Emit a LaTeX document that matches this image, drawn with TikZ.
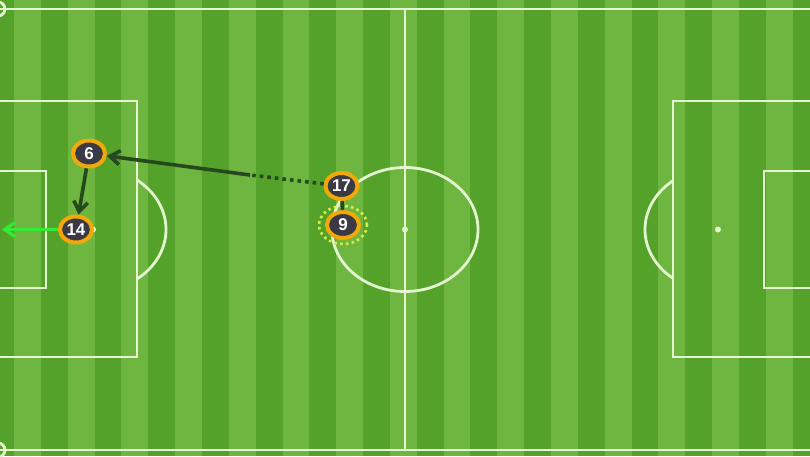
\documentclass[tikz,border=0pt]{standalone}
\usepackage{fontspec}
\setsansfont{Liberation Sans}
\usetikzlibrary{positioning}
\usetikzlibrary{arrows.meta, shapes.geometric}

\definecolor{grasslight}{RGB}{110,182,64}
\definecolor{grassdark}{RGB}{84,162,42}
\definecolor{chalk}{RGB}{228,246,208}
\definecolor{shirt}{RGB}{58,58,70}
\definecolor{ring}{RGB}{242,168,8}
\definecolor{pass}{RGB}{38,72,30}
\definecolor{run}{RGB}{50,235,50}
\definecolor{marker}{RGB}{215,235,70}

\tikzset{
 player/.style={ellipse, draw=ring, line width=2pt, fill=shirt,
  text=white, font=\sffamily\bfseries\fontsize{8.5}{9}\selectfont,
  minimum width=16pt, minimum height=13pt, inner sep=0pt},
 zone/.style={ellipse, draw=marker, line width=1.3pt,
  dash pattern=on 1.3pt off 1.6pt, minimum width=24pt, minimum height=19pt},
 passline/.style={draw=pass, line width=1.8pt},
 runline/.style={draw=run, line width=1.6pt},
 tip/.style={-{Straight Barb[length=5pt,width=7pt]}}
}

\begin{document}
\begin{tikzpicture}[x=0.5pt,y=-0.5pt]
 \useasboundingbox (0,0) rectangle (810,456);
 \begin{scope}
 \clip (0,0) rectangle (810,456);
 % grass stripes
 \fill[grassdark] (0,0) rectangle (810,456);
 \foreach \k in {0,...,14}
  \fill[grasslight] ({14+53.7*\k},0) rectangle ({40.85+53.7*\k},456);
 % pitch markings
 \begin{scope}[draw=chalk, line width=1.4pt]
  \draw (-2,9) rectangle (816,450);
  \draw (405,9) -- (405,450);
  \draw (405,229.5) ellipse [x radius=73, y radius=62];
  \draw (-2,101) rectangle (137,357);
  \draw (-2,171) rectangle (46,288);
  \draw (673,101) rectangle (816,357);
  \draw (764,171) rectangle (816,288);
  \foreach \cy in {9, 450}
   \draw (-2,\cy) circle [radius=7];
  \begin{scope}
   \clip (137,0) rectangle (200,456);
   \draw (93,229.5) ellipse [x radius=73, y radius=62];
  \end{scope}
  \begin{scope}
   \clip (610,0) rectangle (673,456);
   \draw (718,229.5) ellipse [x radius=73, y radius=62];
  \end{scope}
 \end{scope}
 \foreach \sx in {93,405,718}
  \fill[chalk] (\sx,229.5) circle [radius=3];
 \end{scope}

 % players
 \node[zone] (z9) at (343,225) {};
 \node[player] (p6) at (89,153.5) {6};
 \node[player] (p14) at (76,229.5) {14};
 \node[player] (p17) at (341.5,186) {17};
 \node[player] (p9) at (343,225) {9};

 \coordinate (brk) at (250,175);
 \coordinate (gout) at (2,229.5);

 \draw [passline, dash pattern=on 1.8pt off 2pt] (p17) -- (brk);
 \draw [passline, tip] (brk) -- (p6);
 \draw [passline, tip] (p6) -- (p14);
 \draw [passline] (p17) -- (p9);
 \draw [runline, tip] (p14) -- (gout);
\end{tikzpicture}
\end{document}
